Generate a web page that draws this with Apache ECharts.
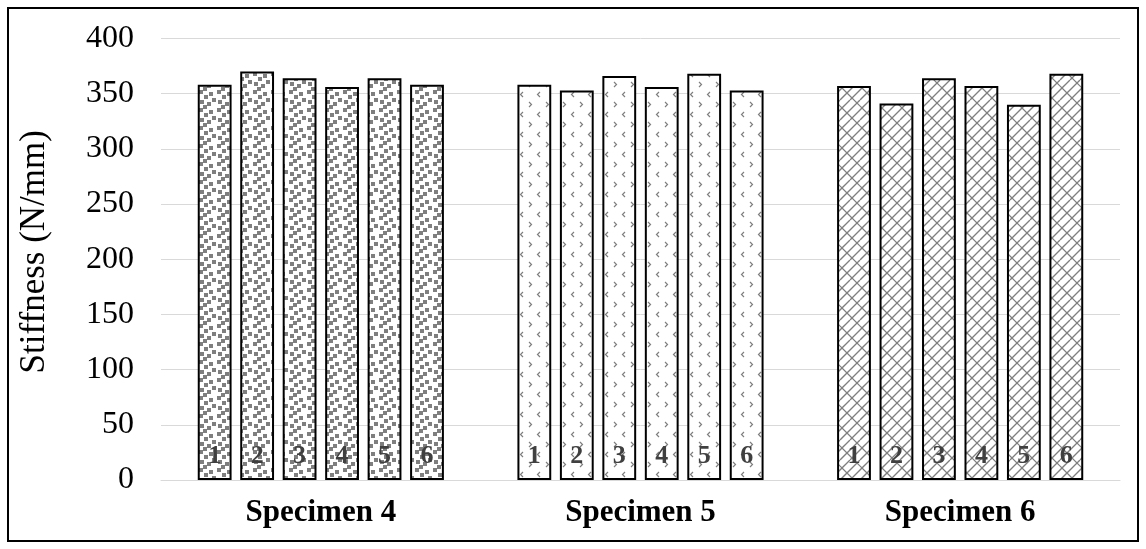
<!DOCTYPE html>
<html>
<head>
<meta charset="utf-8">
<script src="https://cdn.jsdelivr.net/npm/echarts@6/dist/echarts.min.js"></script>
<style>
  html, body { margin: 0; padding: 0; background: #fff; }
  #chart { width: 1146px; height: 549px; }
</style>
</head>
<body>
<div id="chart"></div>
<script>
// Stiffness of six samples for each specimen
const categories = ['Specimen 4', 'Specimen 5', 'Specimen 6'];
const sampleLabels = ['1', '2', '3', '4', '5', '6'];
const specimen4 = [358, 370, 364, 356, 364, 358];
const specimen5 = [358, 353, 366, 356, 368, 353];
const specimen6 = [357, 341, 364, 357, 340, 368];
const yTicks = { min: 0, max: 400, interval: 50 };

const FONT = '"Liberation Serif", "Times New Roman", serif';
const INK = '#7f7f7f';

function tile(w, h, draw) {
  const c = document.createElement('canvas');
  c.width = w; c.height = h;
  const g = c.getContext('2d');
  g.fillStyle = '#fff';
  g.fillRect(0, 0, w, h);
  draw(g, w, h);
  return c;
}

// Fill pattern: large confetti squares
const confetti = tile(18, 18, (g, w, h) => {
  g.fillStyle = INK;
  const sq = [[1, 0], [11, 2], [6, 5], [14, 8], [2, 10], [9, 12], [5, 15]];
  sq.forEach(([x, y]) => {
    for (let dx = -w; dx <= w; dx += w)
      for (let dy = -h; dy <= h; dy += h)
        g.fillRect(x + dx, y + dy, 4, 4);
  });
});

// Fill pattern: sparse small chevrons
const chevrons = tile(17, 20, (g) => {
  g.strokeStyle = INK;
  g.lineWidth = 1.2;
  function chev(x, y, dir) {
    g.beginPath();
    g.moveTo(x, y);
    g.lineTo(x + 2.5 * dir, y + 2.5);
    g.lineTo(x, y + 5);
    g.stroke();
  }
  chev(2, 2, 1);
  chev(13, 12, -1);
});

// Fill pattern: diagonal brick
const bricks = tile(20, 20, (g, P) => {
  g.strokeStyle = INK;
  g.lineWidth = 1.4;
  g.beginPath();
  for (let k = 0; k <= 4; k++) {
    const s = k * P / 2;
    g.moveTo(s - P, P);
    g.lineTo(s, 0);
  }
  g.stroke();
  g.lineWidth = 1.2;
  g.beginPath();
  const joints = [[2, 0], [12, 0], [7, P / 2], [17, P / 2]];
  joints.forEach(([a, off]) => {
    for (let dx = -P; dx <= P; dx += P) {
      for (let dy = -P; dy <= P; dy += P) {
        const x0 = a + dx, y0 = P / 2 - a + off + dy;
        g.moveTo(x0, y0);
        g.lineTo(x0 + P / 4, y0 + P / 4);
      }
    }
  });
  g.stroke();
});

const fills = [
  { image: confetti, repeat: 'repeat' },
  { image: chevrons, repeat: 'repeat' },
  { image: bricks, repeat: 'repeat' }
];

const groups = [specimen4, specimen5, specimen6];

const series = sampleLabels.map((name, i) => ({
  name: name,
  type: 'bar',
  barGap: '25.6%',
  barCategoryGap: '23%',
  data: groups.map((vals, c) => ({
    value: vals[i],
    itemStyle: { color: fills[c] }
  })),
  itemStyle: { borderColor: '#000', borderWidth: 2 },
  label: {
    show: true,
    position: 'insideBottom',
    distance: 11,
    formatter: '{a}',
    fontFamily: FONT,
    fontWeight: 'bold',
    fontSize: 26,
    color: '#404040'
  }
}));

const chart = echarts.init(document.getElementById('chart'), null, { renderer: 'canvas' });
chart.setOption({
  animation: false,
  backgroundColor: '#fff',
  grid: { left: 161, right: 26, top: 38.5, bottom: 69, containLabel: false },
  xAxis: {
    type: 'category',
    data: categories,
    axisLine: { show: true, lineStyle: { color: '#d9d9d9', width: 1 } },
    axisTick: { show: false },
    axisLabel: {
      margin: 17,
      fontFamily: FONT,
      fontWeight: 'bold',
      fontSize: 31,
      color: '#000'
    }
  },
  yAxis: {
    type: 'value',
    min: yTicks.min,
    max: yTicks.max,
    interval: yTicks.interval,
    name: 'Stiffness (N/mm)',
    nameLocation: 'middle',
    nameRotate: 90,
    nameGap: 109,
    nameTextStyle: { fontFamily: FONT, fontSize: 35, color: '#000', padding: [0, 0, 0, 15] },
    axisLine: { show: false },
    axisTick: { show: false },
    splitLine: { lineStyle: { color: '#d9d9d9', width: 1 } },
    axisLabel: {
      margin: 27,
      fontFamily: FONT,
      fontSize: 32,
      color: '#000'
    }
  },
  graphic: [{
    type: 'rect',
    shape: { x: 8, y: 8, width: 1130, height: 533 },
    style: { fill: null, stroke: '#000', lineWidth: 2 },
    silent: true,
    z: 100
  }],
  series: series
});
</script>
</body>
</html>
